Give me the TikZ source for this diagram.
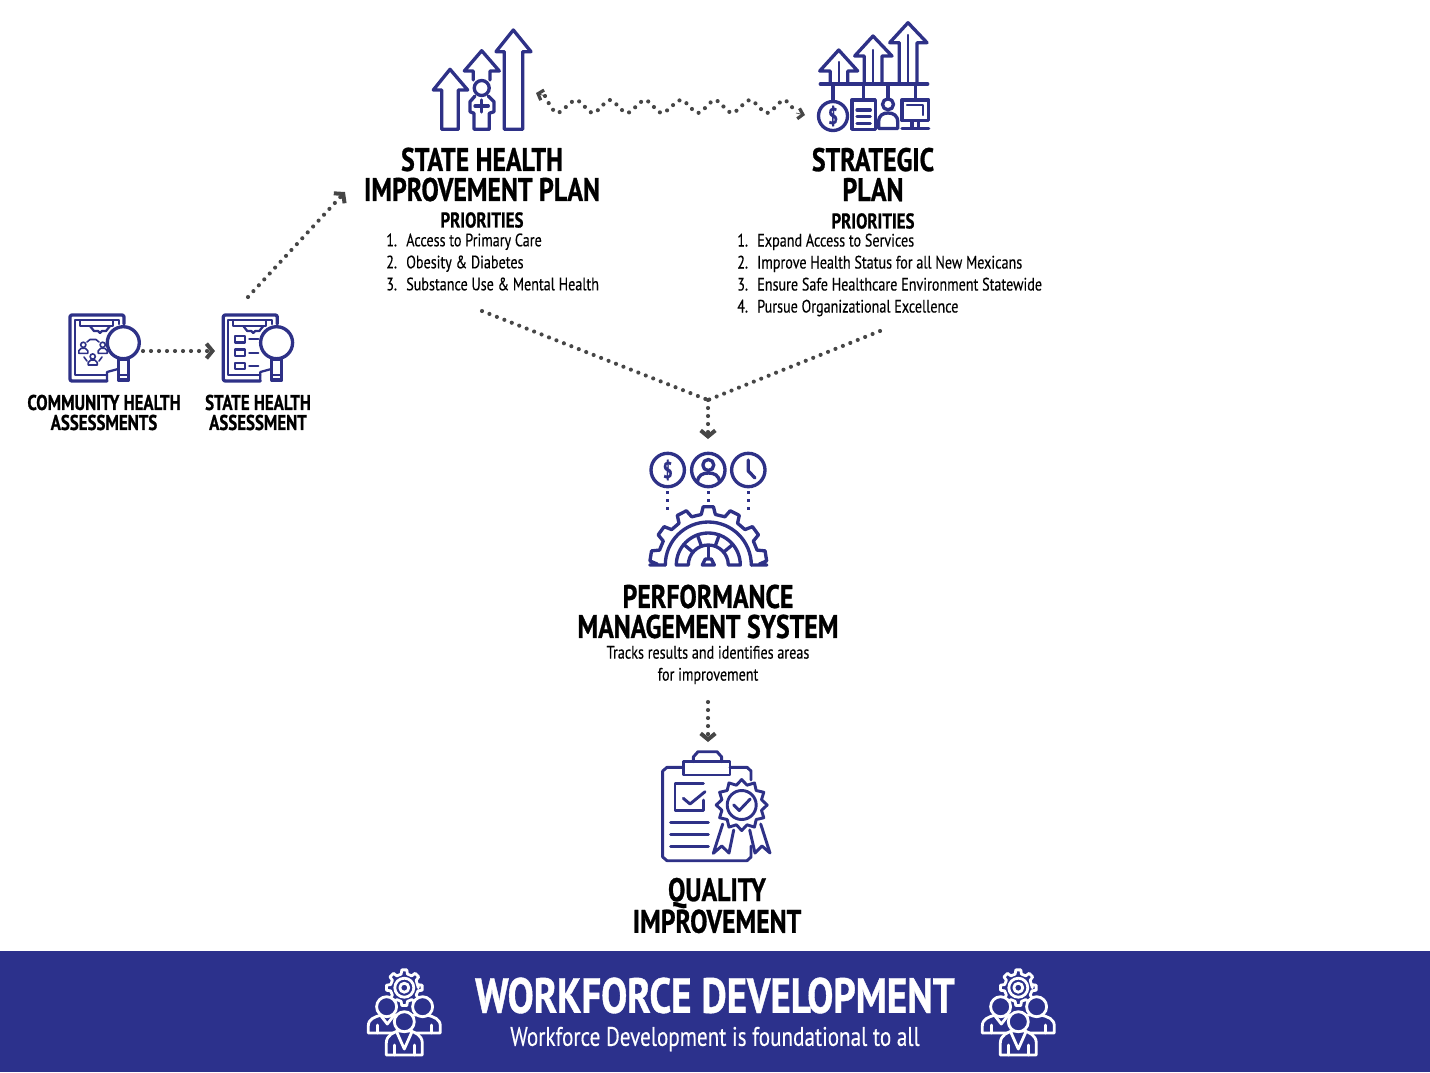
\documentclass[tikz,border=0pt]{standalone}
\usepackage{fontspec}
\setmainfont[FakeStretch=0.785,FakeBold=0.25]{PT Sans}
\newfontfamily\headfont[FakeStretch=0.79,FakeBold=0.8]{PT Sans Bold}
\usetikzlibrary{arrows.meta}
\definecolor{navyband}{RGB}{44,49,140}
\definecolor{iconblue}{RGB}{46,49,135}
\definecolor{flowgray}{RGB}{70,70,70}
\tikzset{
  icon/.style={draw=iconblue, line width=2.5pt, line join=round, line cap=round},
  thinicon/.style={icon, line width=1.7pt},
  bandicon/.style={draw=white, line width=2.1pt, line join=round, line cap=round},
  dotflow/.style={draw=flowgray, line width=3.1pt, line cap=round, dash pattern=on 0pt off 6pt},
  chevron/.style={-{Straight Barb[length=4.5pt,width=11pt,line width=3pt]}},
  wavetip/.style={draw=flowgray, line width=0.5pt, -{Straight Barb[length=3.5pt,width=8pt,line width=2.4pt]}},
  bigtitle/.style={font=\headfont\fontsize{24.5}{22.5}\selectfont, align=center, inner sep=0pt},
  smalltitle/.style={font=\headfont\fontsize{16}{15}\selectfont, align=center, inner sep=0pt},
  minortitle/.style={font=\headfont\fontsize{16}{15}\selectfont, align=center, inner sep=0pt},
  bodytext/.style={font=\fontsize{13.5}{16.5}\selectfont, align=left, anchor=west, inner sep=0pt},
  pics/lensboard/.style={code={
    \draw[icon, rounded corners=1.5pt] (37,66) -- (0,66) -- (0,0) -- (54,0) -- (54,9);
    \draw[thinicon] (49,9) -- (49,5) -- (5,5) -- (5,60) -- (37,60);
    \draw[thinicon] (37,66) -- (37,57) -- (48,54);
    \draw[thinicon, fill=white] (10,5) rectangle (43,11);
    \draw[thinicon] (20,11) -- (24,16) -- (28,16) -- (30,18) -- (32,16) -- (36,16) -- (40,11);
    \draw[icon, fill=white] (48.5,44) rectangle (58.5,65);
    \draw[icon, fill=white] (53.3,27.7) circle (16);
    \draw[thinicon] (48.5,60) -- (58.5,60);
  }},
  pics/smallperson/.style={code={
    \draw[thinicon, line width=1.2pt] (0,-3.5) circle (2.6);
    \draw[thinicon, line width=1.2pt] (-4.5,5) -- (-4.5,2.5) -- (-2,0) -- (2,0) -- (4.5,2.5) -- (4.5,5) -- cycle;
  }},
  pics/coin/.style={code={
    \draw[icon] (0,0) circle (#1);
    \node[text=iconblue, font=\headfont\fontsize{17}{17}\selectfont, inner sep=0pt] (cointext) at (0,0) {\$};
  }},
  pics/teamgear/.style={code={
    \begin{scope}[shift={(0,-17.3)}]
      \draw[bandicon, fill=navyband] (0:14) \foreach \a in {0,45,...,315} { -- (\a-13:14) -- (\a-8:18) -- (\a+8:18) -- (\a+13:14)} -- cycle;
      \draw[bandicon] (0,0) circle (9.5);
      \draw[bandicon] (0,0) circle (4.5);
    \end{scope}
    \draw[bandicon, fill=navyband] (-36,28) -- (-36,21) .. controls (-36,14) and (-30,12) .. (-23,10) -- (-10,10) .. controls (-3,12) and (0,16) .. (0,21) -- (0,28) -- cycle;
    \draw[bandicon, fill=navyband] (36,28) -- (36,21) .. controls (36,14) and (30,12) .. (23,10) -- (10,10) .. controls (3,12) and (0,16) .. (0,21) -- (0,28) -- cycle;
    \draw[bandicon] (-27,28) -- (-27,20);
    \draw[bandicon] (-24,10) -- (-17,19) -- (-10,10);
    \draw[bandicon] (27,28) -- (27,20);
    \draw[bandicon, fill=navyband] (-17.7,1.7) circle (10);
    \draw[bandicon, fill=navyband] (18.3,1.7) circle (10);
    \draw[bandicon, fill=navyband] (-18,50) -- (-18,38) .. controls (-18,30) and (-10,27) .. (-6,26) -- (6,26) .. controls (10,27) and (18,30) .. (18,38) -- (18,50) -- cycle;
    \draw[bandicon] (-8,26) -- (0,44) -- (8,26);
    \draw[bandicon] (-10,50) -- (-10,40);
    \draw[bandicon] (10,50) -- (10,40);
    \draw[bandicon, fill=navyband] (0,16.7) circle (10);
  }}
}
\begin{document}
\begin{tikzpicture}[x=0.75pt, y=-0.75pt, >=stealth]
  \useasboundingbox (0,0) rectangle (1430,1072);
  % 1. band at the bottom
  \fill[navyband] (0,951) rectangle (1430,1072);
  \node[font=\headfont\color{white}\fontsize{37}{37}\selectfont] (bandtitle) at (715,995.5) {WORKFORCE DEVELOPMENT};
  \node[font=\color{white}\fontsize{20.2}{20.2}\selectfont] (bandtext) at (715,1039) {Workforce Development is foundational to all};
  \pic at (404.3,1005) {teamgear};
  \pic at (1018.3,1005) {teamgear};

  % 2. text blocks
  \node[bigtitle] (shiptitle) at (482,174.5) {STATE HEALTH\\IMPROVEMENT PLAN};
  \node[minortitle] (shipprio) at (482,220) {PRIORITIES};
  \node[bodytext] (shiplist) at (386,262) {\makebox[15pt][l]{1.}Access to Primary Care\\\makebox[15pt][l]{2.}Obesity \& Diabetes\\\makebox[15pt][l]{3.}Substance Use \& Mental Health};
  \node[bigtitle] (plantitle) at (873,174.5) {STRATEGIC\\PLAN};
  \node[minortitle] (planprio) at (873,221) {PRIORITIES};
  \node[bodytext] (planlist) at (737,275) {\makebox[15pt][l]{1.}Expand Access to Services\\\makebox[15pt][l]{2.}Improve Health Status for all New Mexicans\\\makebox[15pt][l]{3.}Ensure Safe Healthcare Environment Statewide\\\makebox[15pt][l]{4.}Pursue Organizational Excellence};
  \node[smalltitle] (chatitle) at (104,412.5) {COMMUNITY HEALTH\\ASSESSMENTS};
  \node[smalltitle] (shatitle) at (258,412.5) {STATE HEALTH\\ASSESSMENT};
  \node[bigtitle] (pmstitle) at (708,611.5) {PERFORMANCE\\MANAGEMENT SYSTEM};
  \node[font=\fontsize{13.5}{16.5}\selectfont, align=center, inner sep=0pt] (pmstext) at (708,665) {Tracks results and identifies areas\\for improvement};
  \node[bigtitle] (qititle) at (717,905.5) {QUALITY\\IMPROVEMENT};

  % 3. dotted connectors
  \coordinate (chaout) at (143,351);
  \coordinate (shain) at (215,351);
  \coordinate (shaout) at (248,297);
  \coordinate (shipin) at (345,192);
  \coordinate (wavea) at (536,93);
  \coordinate (waveb) at (805,115);
  \coordinate (wavestart) at (545,96);
  \coordinate (waveend) at (796,113);
  \coordinate (shipout) at (482,311);
  \coordinate (planout) at (880,331);
  \coordinate (merge) at (708,400);
  \coordinate (pmsin) at (708,439);
  \coordinate (pmsout) at (708,702);
  \coordinate (qiin) at (708,742);
  \draw[dotflow, chevron] (chaout) -- (shain);
  \draw[dotflow, chevron] (shaout) -- (shipin);
  \draw[dotflow] plot[smooth] coordinates {(wavestart) (557,113) (576,100) (593,113) (610,100) (627,113) (645,100) (662,113) (681,100) (698,113) (715,100) (732,113) (750,100) (767,113) (784,100) (waveend)};
  \draw[wavetip] (wavestart) -- (wavea);
  \draw[wavetip] (waveend) -- (waveb);
  \draw[dotflow] (shipout) -- (merge);
  \draw[dotflow] (planout) -- (merge);
  \draw[dotflow, chevron] (merge) -- (pmsin);
  \draw[dotflow, chevron] (pmsout) -- (qiin);

  % 4. state health improvement plan icon
  \draw[icon] (441.7,129.3) -- (441.7,90) -- (433.3,90) -- (450,69.3) -- (467.7,90) -- (458.3,90) -- (458.3,129.3) -- cycle;
  \draw[icon] (473.3,80) -- (473.3,71) -- (464.3,71) -- (481.7,50.7) -- (499.3,71) -- (490,71) -- (490,80);
  \draw[icon] (504.3,129.3) -- (504.3,51.7) -- (496,51.7) -- (513.3,30) -- (531,51.7) -- (522.7,51.7) -- (522.7,129.3) -- cycle;
  \draw[icon] (481.7,88) circle (7.5);
  \draw[icon] (475,96) -- (470,101.7) -- (470,111.7) -- (474,113.3) -- (474,129.3) -- (489.3,129.3) -- (489.3,113.3) -- (494,111.7) -- (494,101.7) -- (488.3,96);
  \draw[icon] (481.7,100) -- (481.7,112) (475,106) -- (488.3,106);

  % 5. strategic plan icon
  \begin{scope}[shift={(7,0)}]
    \draw[icon] (823.3,84) -- (823.3,71) -- (812.7,71) -- (831.7,50) -- (850.7,71) -- (840.7,71) -- (840.7,84);
    \draw[icon] (857.3,84) -- (857.3,56) -- (847.7,56) -- (866,36) -- (885,56) -- (875,56) -- (875,84);
    \draw[icon] (892.3,84) -- (892.3,42.7) -- (882.7,42.7) -- (901,22.7) -- (920,42.7) -- (910,42.7) -- (910,84);
    \draw[icon, line width=1.8pt] (831.7,62) -- (831.7,84) (866,50) -- (866,84) (901,35) -- (901,84);
    \draw[icon] (813.3,84) -- (920.7,84);
    \draw[icon] (826,84) -- (826,101) (856.7,84) -- (856.7,100) (881,84) -- (881,99) (908.3,84) -- (908.3,100);
    \pic at (826,116) {coin=14.5};
    \draw[icon] (845,100) rectangle (868.3,129.3);
    \draw[icon] (850,110) -- (863.3,110) (850,116.7) -- (863.3,116.7) (850,123.3) -- (863.3,123.3);
    \draw[icon] (881,104.3) circle (5.5);
    \draw[icon] (871.7,128.5) -- (871.7,122) .. controls (871.7,115) and (876,113) .. (881,113) .. controls (886,113) and (890.7,115) .. (890.7,122) -- (890.7,128.5) -- cycle;
    \draw[icon] (895,100) rectangle (921.7,120.7);
    \draw[thinicon] (900,105) -- (916,105) -- (916,115);
    \draw[icon] (905,120.7) -- (905,128.3) (911.7,120.7) -- (911.7,128.3) (895,128.3) -- (921.7,128.3);
  \end{scope}

  % 6. assessment icons
  \pic at (70,315) {lensboard};
  \pic at (223.3,315) {lensboard};
  \pic at (83.3,348.3) {smallperson};
  \pic at (102.7,348.3) {smallperson};
  \pic at (92.7,360) {smallperson};
  \draw[thinicon, line width=1.2pt] (87,342) -- (90,339.5) -- (96,339.5) -- (99,342);
  \draw[thinicon, line width=1.2pt] (84,357) -- (87,361) (102,357) -- (99,361);
  \foreach \row in {339.3,352.7,366} {
    \draw[thinicon] (235,\row-3.3) rectangle (245,\row+3.3);
    \draw[thinicon] (249.3,\row) -- (258.3,\row);
  }

  % 7. performance management icon
  \pic at (667.7,470) {coin=16.7};
  \draw[icon] (708.3,470) circle (16.7);
  \draw[icon] (708.3,465) circle (5.5);
  \draw[icon] (697.5,482) .. controls (698,475) and (703,473) .. (708.3,473) .. controls (714,473) and (719,475) .. (719.5,482);
  \draw[icon] (748.3,470) circle (16.7);
  \draw[icon] (748.3,460) -- (748.3,471) -- (755,478);
  \draw[iconblue, line width=2.6pt, dash pattern=on 2.4pt off 3.6pt] (667.7,491) -- (667.7,512);
  \draw[iconblue, line width=2.6pt, dash pattern=on 2.4pt off 3.6pt] (708.3,491) -- (708.3,504);
  \draw[iconblue, line width=2.6pt, dash pattern=on 2.4pt off 3.6pt] (748.3,491) -- (748.3,512);
  \begin{scope}[shift={(708.3,565)}]
    \draw[icon] (-43,0) -- (-58.5,0) \foreach \a in {-171,-144,-117,-90,-63,-36,-9} { -- (\a-8:51) -- (\a-5:58.5) -- (\a+5:58.5) -- (\a+8:51)} -- (58.5,0) -- (43,0);
    \draw[icon] (-43,0) arc[start angle=-180, end angle=0, radius=43];
    \draw[icon] (-32,0) arc[start angle=-180, end angle=0, radius=32] -- (20,0) arc[start angle=0, end angle=-180, radius=20] -- cycle;
    \foreach \a in {-140,-110,-70,-40} {
      \draw[icon] (\a:20) -- (\a:32);
    }
    \draw[icon] (0,-18) -- (0,-7);
    \draw[icon] (-6,0) -- (6,0) -- (3,-6) -- (-3,-6) -- cycle;
  \end{scope}

  % 8. quality improvement icon
  \draw[thinicon, line width=2.2pt] (683.3,767.3) -- (667,767.3) -- (662.7,771) -- (662.7,857) -- (667,860.7) -- (747,860.7) -- (751,857) -- (751,846);
  \draw[thinicon, line width=2.2pt] (730,767.3) -- (747,767.3) -- (751,771) -- (751,780);
  \draw[thinicon, line width=2.2pt] (683.3,761.7) rectangle (730,775);
  \draw[thinicon, line width=2.2pt] (693.3,761.7) -- (693.3,757) -- (698,751.7) -- (717,751.7) -- (721.7,757) -- (721.7,761.7);
  \draw[thinicon, line width=2.2pt] (703.3,783.3) -- (675,783.3) -- (675,810.7) -- (703.3,810.7) -- (703.3,800);
  \draw[thinicon, line width=2.2pt] (683.3,798.3) -- (690,804) -- (705,791.7);
  \draw[thinicon, line width=2.2pt] (670.7,822.7) -- (708.3,822.7) (670.7,834.3) -- (708.3,834.3) (670.7,846.7) -- (708.3,846.7);
  \draw[thinicon, line width=2.2pt] (722.7,824) -- (713.3,853.3) -- (721.7,846) -- (729,853) -- (733.7,830);
  \draw[thinicon, line width=2.2pt] (760.7,824) -- (770,853) -- (762,846) -- (755,853) -- (749.7,830);
  \begin{scope}[shift={(741.7,805)}]
    \draw[thinicon, line width=2.2pt, fill=white] (0:25.5) \foreach \a in {0,30,...,330} { -- (\a:25.5) -- (\a+15:20.5)} -- cycle;
    \draw[thinicon, line width=2.2pt] (0,0) circle (14.5);
    \draw[thinicon, line width=2.2pt] (-8,0) -- (-2.5,5.5) -- (8.5,-6);
  \end{scope}
\end{tikzpicture}
\end{document}
